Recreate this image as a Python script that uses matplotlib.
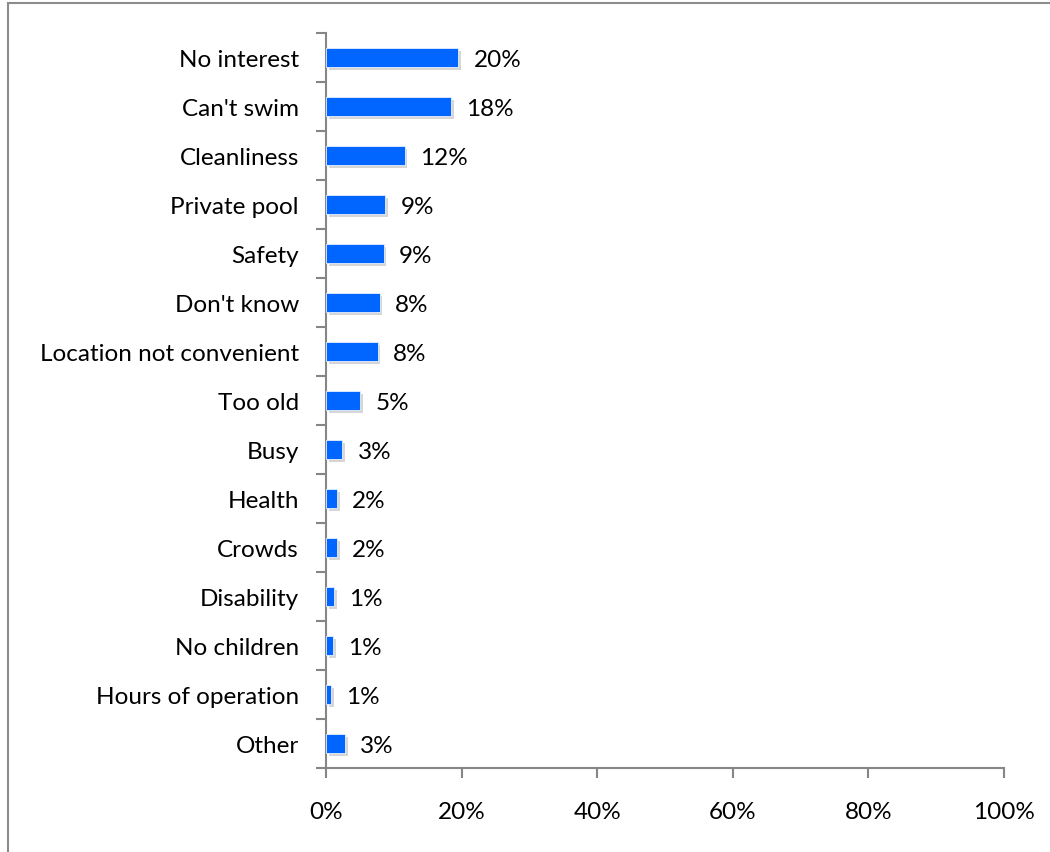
import matplotlib
matplotlib.use("Agg")
import matplotlib.pyplot as plt
import matplotlib.patheffects as pe
from matplotlib.patches import Rectangle
from matplotlib.ticker import FuncFormatter, MultipleLocator

# reasons for not using the pool, top to bottom
reasons = [
    "No interest", "Can't swim", "Cleanliness", "Private pool", "Safety",
    "Don't know", "Location not convenient", "Too old", "Busy", "Health",
    "Crowds", "Disability", "No children", "Hours of operation", "Other",
]
shares = [19.5, 18.4, 11.6, 8.7, 8.5, 7.9, 7.6, 5.0, 2.4, 1.6, 1.6, 1.2, 1.0, 0.7, 2.8]
share_labels = ["20%", "18%", "12%", "9%", "9%", "8%", "8%", "5%", "3%", "2%",
                "2%", "1%", "1%", "1%", "3%"]

plt.rcParams["font.family"] = ["Lato", "DejaVu Sans"]

fig = plt.figure(figsize=(10.5, 8.53), dpi=100)
ax = fig.add_axes([0.3105, 0.0985, 0.6457, 0.8615])

# outer chart frame (only left/top edges visible in the original crop)
fig.patches.append(Rectangle((8 / 1050, -0.1), 1.2, 1 - 4 / 853 + 0.1,
                             transform=fig.transFigure, fill=False,
                             edgecolor="#8c8c8c", linewidth=1.5))

ypos = list(range(len(reasons)))[::-1]
bars = ax.barh(ypos, shares, height=0.38, color="#0066ff", edgecolor="#e8f0ff",
               linewidth=0.6, zorder=3)
for b in bars:
    b.set_path_effects([pe.SimplePatchShadow(offset=(2, -2), shadow_rgbFace="#bbbbbb", alpha=0.6),
                        pe.Normal()])

for y, v, lab in zip(ypos, shares, share_labels):
    ax.annotate(lab, (v, y), xytext=(11, -1.5), textcoords="offset points",
                va="center", ha="left", fontsize=17.5, color="black")

ax.set_xlim(0, 100)
ax.set_ylim(-0.5, len(reasons) - 0.5)
ax.xaxis.set_major_locator(MultipleLocator(20))
ax.xaxis.set_major_formatter(FuncFormatter(lambda x, _: f"{x:.0f}%"))
ax.set_yticks(ypos)
ax.set_yticklabels(reasons)
ax.set_yticks([i - 0.5 for i in range(len(reasons) + 1)], minor=True)
ax.tick_params(axis="y", which="major", length=0, pad=19.5, labelsize=17.5)
ax.tick_params(axis="y", which="minor", length=7, width=1.5, color="#868686")
ax.tick_params(axis="x", length=7, width=1.5, color="#868686", pad=17, labelsize=17.5)

for s in ["top", "right"]:
    ax.spines[s].set_visible(False)
for s in ["left", "bottom"]:
    ax.spines[s].set_color("#868686")
    ax.spines[s].set_linewidth(1.5)

fig.savefig("out.png", dpi=100)
